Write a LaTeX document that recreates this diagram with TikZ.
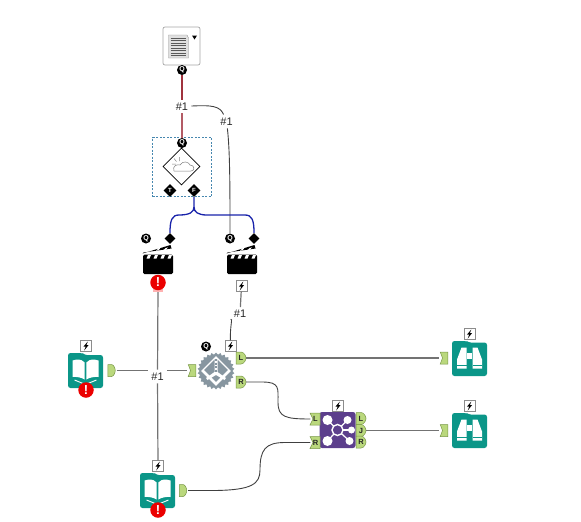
\documentclass[tikz,border=0pt]{standalone}
\usepackage{xcolor}
\usepackage{fontspec}
\setmainfont{Liberation Sans}
\usepackage{tikz}
\usetikzlibrary{positioning,shapes.geometric,shapes.misc}
\definecolor{tealtool}{RGB}{11,150,136}
\definecolor{purptool}{RGB}{92,63,140}
\definecolor{portfill}{RGB}{186,216,125}
\definecolor{portline}{RGB}{120,150,70}
\definecolor{gearcol}{RGB}{135,150,160}
\definecolor{redwire}{RGB}{160,50,62}
\definecolor{bluewire}{RGB}{25,35,170}
\definecolor{testline}{RGB}{70,135,175}
\tikzset{
  % --- wires -----------------------------------------------------------------
  wire/.style={black!55,line width=1.2pt},
  thinwire/.style={black!75,line width=0.9pt},
  redw/.style={redwire,line width=1.4pt},
  bluew/.style={bluewire,line width=1.3pt},
  % --- small nodes -----------------------------------------------------------
  cntlab/.style={font=\fontsize{11}{12}\selectfont,inner sep=3pt,text=black!85},
  qbadge/.style={circle,fill=black,text=white,inner sep=0pt,minimum size=10pt,
                 font=\fontsize{7}{7}\selectfont\bfseries},
  dbadge/.style={diamond,fill=black,text=white,inner sep=0pt,minimum size=13pt,
                 font=\fontsize{6}{7}\selectfont\bfseries},
  alert/.style={circle,fill=red!92!black,text=white,inner sep=0pt,minimum size=15.5pt,
                font=\fontsize{13}{13}\selectfont\bfseries},
  portlab/.style={inner sep=0pt,minimum size=10pt,text=black!85,
                  font=\fontsize{7.5}{8}\selectfont\bfseries},
  % --- ports and icons -------------------------------------------------------
  pics/inport/.style={code={
    \fill[portfill,draw=portline,line width=0.5pt] (-5,-6) -- (5,-6) -- (5,6) -- (-5,6) -- (-2,0) -- cycle;
    \node[portlab] (-lab) at (0.5,0) {#1};}},
  pics/outport/.style={code={
    \fill[portfill,draw=portline,line width=0.5pt] (-5,-6) -- (0,-6) .. controls (3,-6) and (5,-2) .. (5,0)
      .. controls (5,2) and (3,6) .. (0,6) -- (-5,6) -- cycle;
    \node[portlab] (-lab) at (0,0) {#1};}},
  pics/bolt/.style={code={
    \fill[white,draw=black!45,line width=0.6pt] (-5.5,-5.5) rectangle (5.5,5.5);
    \fill[black] (1.8,-4.5) -- (-2.6,0.7) -- (-0.3,0.7) -- (-1.8,4.5) -- (2.6,-1) -- (0.4,-1) -- cycle;}},
  pics/booktool/.style={code={
    \fill[tealtool,rounded corners=2.5pt] (-17.5,-17.5) -- (-3,-17.5) -- (-1,-15.5) -- (17.5,-15.5)
      -- (17.5,17.5) -- (-17.5,17.5) -- cycle;
    \fill[white] (-13,-10) -- (-9,-11) .. controls (-5,-11) and (-2,-10) .. (-0.8,-8) -- (-0.8,9)
      .. controls (-4,7) and (-9,6) .. (-13,6.5) -- cycle;
    \fill[white] (13,-10) -- (9,-11) .. controls (5,-11) and (2,-10) .. (0.8,-8) -- (0.8,9)
      .. controls (4,7) and (9,6) .. (13,6.5) -- cycle;
    \draw[white,line width=0.9pt] (-11,9.5) -- (0,14) -- (11,9.5);}},
  pics/bintool/.style={code={
    \fill[tealtool,rounded corners=2.5pt] (-17.5,-17.5) -- (-3,-17.5) -- (-1,-16) -- (17.5,-16)
      -- (17.5,17.5) -- (-17.5,17.5) -- cycle;
    \fill[white] (-8,-11) -- (-3,-11) -- (-3,10) -- (-12.5,10) -- (-12.5,1) -- cycle;
    \fill[white] (8,-11) -- (3,-11) -- (3,10) -- (12.5,10) -- (12.5,1) -- cycle;
    \fill[tealtool] (-2,-11) rectangle (2,-4);
    \fill[white] (-2.6,-6) rectangle (2.6,0);
    \fill[tealtool] (-12.5,6.5) rectangle (-3,7.5);
    \fill[tealtool] (12.5,6.5) rectangle (3,7.5);}},
  pics/clapper/.style={code={
    \fill[black,rounded corners=1.5pt] (-15,-7.5) rectangle (15,12);
    \fill[black] (-15.5,-8.5) -- (12.5,-17) -- (13.5,-13.5) -- (-14.5,-9.5) -- cycle;
    \foreach \sx in {-10,-3,4,11}{
      \fill[white] (\sx,-7) -- (\sx+3,-7) -- (\sx+1.5,-3.5) -- (\sx-1.5,-3.5) -- cycle;}
    \foreach \sx in {-9,-2,5}{
      \fill[white] (\sx,-11.2) -- (\sx+2.5,-13.8) -- (\sx+5,-14.6) -- (\sx+2.6,-12) -- cycle;}}},
}
\begin{document}
\begin{tikzpicture}[x=1pt,y=-1pt]
  \useasboundingbox (0,0) rectangle (581,522);
  % --- text input and the test tool ---------------------------------------
  \node[draw=black!35,fill=white,rounded corners=2pt,minimum width=37pt,minimum height=38pt,
        inner sep=0pt,line width=0.7pt] (docbox) at (181.5,46) {};
  \fill[black!12,draw=black!45,line width=0.4pt] (168.5,35) -- (187,35) -- (188.5,38) -- (188.5,58) -- (168.5,58) -- cycle;
  \foreach \ly in {38,40.5,...,56}{
    \draw[black!65,line width=0.6pt] (170.5,\ly) -- (186,\ly);}
  \fill[black] (192,35.5) -- (197,35.5) -- (194.5,39.5) -- cycle;
  \node[qbadge] (docq) at (182,70) {Q};
  \node[cntlab] (cnt1) at (182,106.5) {\#1};
  \node[cntlab] (cnt2) at (226.5,121.5) {\#1};
  \node[draw=testline,dash pattern=on 2pt off 1.5pt,line width=0.6pt,minimum size=59pt,inner sep=0pt] (testbox) at (182,167) {};
  \node[diamond,draw=black,line width=0.7pt,fill=white,minimum size=37pt,inner sep=0pt] (testdia) at (181.5,166.5) {};
  \node[qbadge] (testq) at (182,143) {Q};
  \fill[white,draw=black!50,line width=0.5pt] (174,171) .. controls (172,166) and (177,164) .. (180,165)
    .. controls (183,160) and (189,162) .. (190,165) .. controls (195,165) and (195,171) .. (191,171) -- cycle;
  \draw[black!50,line width=0.5pt] (172,164) -- (176,164) (174,158.5) -- (176.5,161.5) (179.5,157) -- (179.5,161);
  \node[dbadge] (testt) at (170,190.5) {T};
  \node[dbadge] (testf) at (194,190.5) {F};
  % --- the two clapper tools ----------------------------------------------
  \pic at (158,262) {clapper};
  \pic at (242,262) {clapper};
  \node[qbadge] (clapq1) at (146,238.5) {Q};
  \node[qbadge] (clapq2) at (230,238.5) {Q};
  \node[dbadge,minimum size=11pt] (clapd1) at (170,238.5) {};
  \node[dbadge,minimum size=11pt] (clapd2) at (254,238.5) {};
  \node[fill=red!30,inner sep=0pt,minimum width=10pt,minimum height=5pt] (clapflag) at (158,289.5) {};
  \node[alert] (clapalert) at (158,282.5) {!};
  \pic (clapbolt) at (241.5,286) {bolt};
  \node[inner sep=0pt,minimum size=11pt] (clapbox) at (241.5,286) {};
  \node[cntlab] (cnt3) at (240,314) {\#1};
  \coordinate (fork) at (194,207);
  \coordinate (forkl) at (179,215);
  \coordinate (forkr) at (207,215);
  % --- left input, join ----------------------------------------------------
  \pic at (85.5,370.5) {booktool};
  \pic (inbolt) at (86,346) {bolt};
  \node[alert] (inalert) at (86,390) {!};
  \pic[xscale=0.75] (inout) at (111.5,370.5) {outport=};
  \node[cntlab] (cnt4) at (157.5,376.5) {\#1};
  \pic[xscale=0.75] (joinin) at (192,370.5) {inport=};
  \node[star,star points=26,star point ratio=1.13,fill=gearcol,minimum size=37pt,inner sep=0pt] (joingear) at (216,371) {};
  \node[diamond,fill=white,minimum size=30pt,inner sep=0pt] (joindia) at (216,371) {};
  \node[diamond,fill=gearcol,minimum size=24pt,inner sep=0pt] (joinin2) at (216,370) {};
  \fill[white] (214.5,358) -- (217.5,358) -- (217.5,372) -- (226,378) -- (224.5,380) -- (216,375) -- (207.5,380) -- (206,378) -- (214.5,372) -- cycle;
  \draw[gearcol,line width=1.2pt,dash pattern=on 2pt off 1.5pt] (216,359) -- (216,372);
  \node[qbadge] (joinq) at (206,346.5) {Q};
  \pic (joinbolt) at (230.5,346) {bolt};
  \node[inner sep=0pt,minimum size=11pt] (joinbox) at (230.5,346) {};
  \pic (joinl) at (241,358) {outport=L};
  \pic (joinr) at (241,382) {outport=R};
  % --- lower input ---------------------------------------------------------
  \pic at (157.5,490.5) {booktool};
  \pic (lowbolt) at (158,466) {bolt};
  \node[inner sep=0pt,minimum size=11pt] (lowbox) at (158,466) {};
  \node[alert] (lowalert) at (158,510) {!};
  \pic[xscale=0.75] (lowout) at (183,490.5) {outport=};
  % --- the purple tool -----------------------------------------------------
  \node[fill=purptool,rounded corners=2.5pt,minimum size=36pt,inner sep=0pt] (hub) at (337.5,430) {};
  \foreach \hx/\hy/\hr/\hn in {-10/-10/5/a,10/-10/4/b,-10/11/5/c,12/11/4/d,14/0/3.5/e}{
    \draw[white,line width=1.2pt] (337.5,430) -- ++(\hx,\hy);
    \fill[white] (337.5+\hx,430+\hy) circle (\hr);}
  \fill[purptool,draw=white,line width=1.4pt] (337.5,430) circle (5.5);
  \pic (hubbolt) at (338,406) {bolt};
  \pic (hubinl) at (315,419) {inport=L};
  \pic (hubinr) at (315,442.5) {inport=R};
  \pic (huboutl) at (361,418.5) {outport=L};
  \pic (huboutj) at (361,430.5) {outport=J};
  \pic (huboutr) at (361,442) {outport=R};
  % --- browse tools --------------------------------------------------------
  \pic at (469.5,358.5) {bintool};
  \pic at (469.5,430.5) {bintool};
  \pic (br1bolt) at (469.5,334) {bolt};
  \pic (br2bolt) at (469.5,406) {bolt};
  \pic[xscale=0.75] (br1in) at (444,358) {inport=};
  \pic[xscale=0.75] (br2in) at (444,430.5) {inport=};
  % --- wires ---------------------------------------------------------------
  \draw[redw] (docq) -- (cnt1);
  \draw[redw,redwire!80] (cnt1) -- (testq);
  \draw[thinwire] (cnt1) .. controls (212,105) and (220,106) .. (cnt2);
  \draw[thinwire] (cnt2) .. controls (230,150) and (230,190) .. (clapq2);
  \draw[bluew] (testf) -- (fork) .. controls (194,212) and (190,215) .. (forkl)
    .. controls (172,215) and (170,220) .. (clapd1);
  \draw[bluew] (fork) .. controls (194,212) and (198,215) .. (forkr) -- (245,215)
    .. controls (252,215) and (254,220) .. (clapd2);
  \draw[wire] (clapbox) -- (cnt3);
  \draw[thinwire] (cnt3) .. controls (233,318) and (230,325) .. (joinbox);
  \draw[wire] (clapflag) -- (cnt4);
  \draw[wire] (cnt4) -- (lowbox);
  \draw[wire] (inout-lab) -- (cnt4.west |- inout-lab);
  \draw[wire] (cnt4.east |- joinin-lab) -- (joinin-lab);
  \draw[wire] (joinl-lab) -- (br1in-lab);
  \draw[thinwire] (joinr-lab) -- (262,382) .. controls (280,382) and (278,388) .. (278,402)
    .. controls (278,417) and (285,419) .. (hubinl-lab);
  \draw[thinwire] (lowout-lab) -- (215,490.5) .. controls (252,490) and (260,484) .. (260,470)
    .. controls (260,450) and (265,442.5) .. (285,442.5) -- (hubinr-lab);
  \draw[wire] (huboutj-lab) -- (br2in-lab);
\end{tikzpicture}
\end{document}
